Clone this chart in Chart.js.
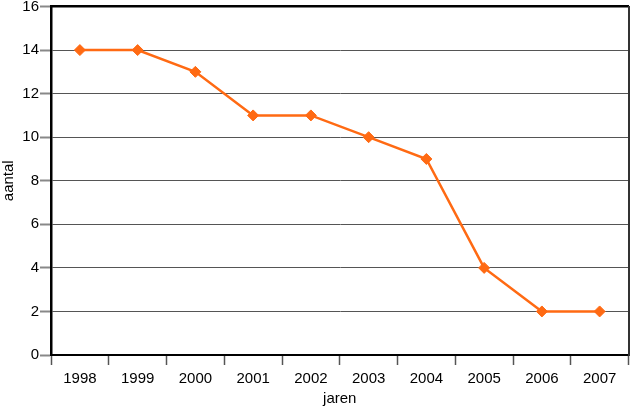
<!DOCTYPE html>
<html>
<head>
<meta charset="utf-8">
<script src="https://cdn.jsdelivr.net/npm/chart.js@4.4.0/dist/chart.umd.min.js"></script>
<style>
html,body{margin:0;padding:0;background:#fff;}
#wrap{width:635px;height:408px;}
</style>
</head>
<body>
<div id="wrap"><canvas id="c" width="635" height="408"></canvas></div>
<script>
const categories = ['1998','1999','2000','2001','2002','2003','2004','2005','2006','2007'];
const aantal = [14, 14, 13, 11, 11, 10, 9, 4, 2, 2];
const yTicks = [0, 2, 4, 6, 8, 10, 12, 14, 16];

const FONT = 'Liberation Sans';
const noPad = s => { s.paddingTop = 0; s.paddingBottom = 0; s.paddingLeft = 0; s.paddingRight = 0; };
new Chart(document.getElementById('c'), {
  type: 'line',
  data: {
    labels: categories,
    datasets: [{
      data: aantal,
      borderColor: '#ff6a13',
      backgroundColor: '#ff6a13',
      borderWidth: 2.5,
      pointStyle: 'rectRot',
      pointRadius: 5.5,
      pointBorderWidth: 1,
      pointHoverRadius: 5.5,
      tension: 0,
      fill: false
    }]
  },
  options: {
    responsive: false,
    animation: false,
    devicePixelRatio: 1,
    layout: { padding: { top: 5, right: 2, left: 0, bottom: 0 } },
    plugins: { legend: { display: false }, tooltip: { enabled: false } },
    scales: {
      x: {
        type: 'category',
        offset: true,
        grid: { offset: true, drawOnChartArea: false, tickLength: 10, color: '#555', tickWidth: 1.5 },
        border: { color: '#000', width: 2 },
        ticks: { color: '#000', font: { family: FONT, size: 15 }, padding: 5, maxRotation: 0, autoSkip: false },
        title: { display: true, text: 'jaren', color: '#000', font: { family: FONT, size: 15 }, padding: { top: 1, bottom: 0 } },
        afterFit: s => { s.height = 53; noPad(s); }
      },
      y: {
        min: 0, max: 16,
        afterBuildTicks: s => { s.ticks = yTicks.map(v => ({ value: v })); },
        grid: { color: '#555', lineWidth: 1, tickLength: 11, tickColor: '#888', tickWidth: 2 },
        border: { color: '#000', width: 2.5 },
        ticks: { color: '#000', font: { family: FONT, size: 15 }, padding: 1 },
        title: { display: true, text: 'aantal', color: '#000', font: { family: FONT, size: 15 }, padding: 0 },
        afterFit: s => { s.width = 51; noPad(s); }
      },
      xTop: {
        type: 'linear', position: 'top', min: 0, max: 1,
        ticks: { display: false },
        grid: { display: false, drawTicks: false },
        border: { color: '#000', width: 2.5 },
        afterFit: s => { s.height = 0; noPad(s); }
      },
      yRight: {
        type: 'linear', position: 'right', min: 0, max: 1,
        ticks: { display: false },
        grid: { display: false, drawTicks: false },
        border: { color: '#333', width: 2 },
        afterFit: s => { s.width = 0; noPad(s); }
      }
    }
  }
});
</script>
</body>
</html>
